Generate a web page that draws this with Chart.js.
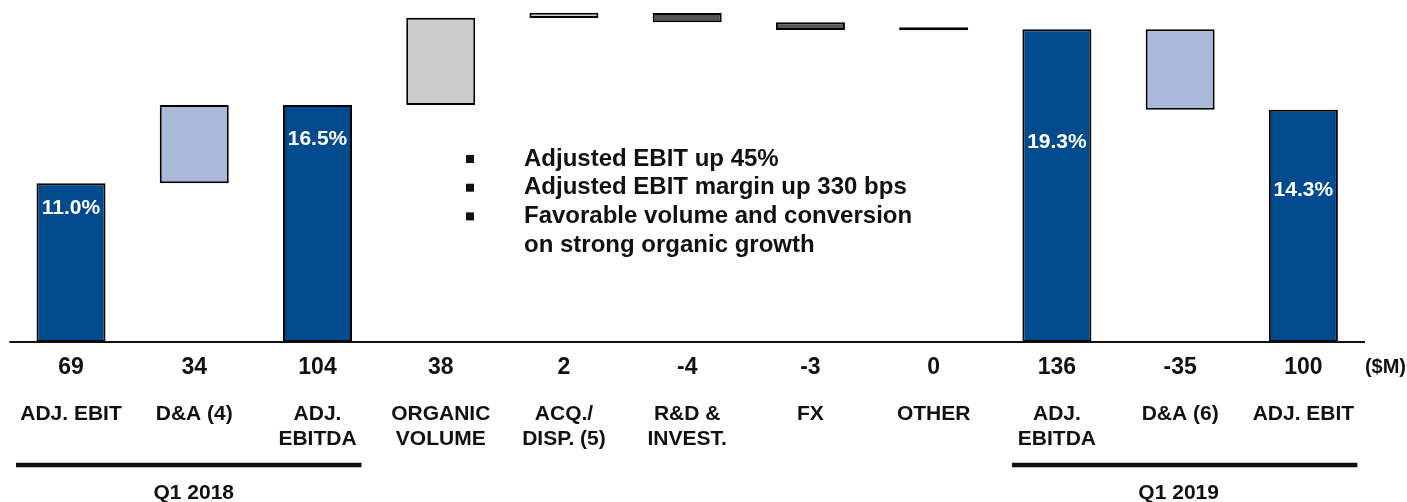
<!DOCTYPE html>
<html>
<head>
<meta charset="utf-8">
<script src="https://cdn.jsdelivr.net/npm/chart.js@4.4.1/dist/chart.umd.min.js"></script>
<style>
  html, body { margin: 0; padding: 0; background: #fff; }
  #wrap { width: 1407px; height: 502px; position: relative; }
</style>
</head>
<body>
<div id="wrap"><canvas id="chart" width="1407" height="502"></canvas></div>
<script>
const categories = [
  ['ADJ. EBIT'], ['D&A (4)'], ['ADJ.', 'EBITDA'], ['ORGANIC', 'VOLUME'],
  ['ACQ./', 'DISP. (5)'], ['R&D &', 'INVEST.'], ['FX'], ['OTHER'],
  ['ADJ.', 'EBITDA'], ['D&A (6)'], ['ADJ. EBIT']
];
const valueLabels = ['69', '34', '104', '38', '2', '-4', '-3', '0', '136', '-35', '100'];
const barStart = [0, 69, 0, 103, 140.9, 143, 139, 135.6, 0, 136, 0];
const barEnd   = [69, 103, 103, 141, 143.2, 139, 135.7, 136.9, 136, 101, 101];
const barColors = ['#004B8D', '#A9B9D9', '#004B8D', '#CCCCCC', '#CCCCCC', '#555555',
                   '#555555', '#111111', '#004B8D', '#A9B9D9', '#004B8D'];
const marginLabels = ['11.0%', '', '16.5%', '', '', '', '', '', '19.3%', '', '14.3%'];
const marginAt = [58.5, null, 88.7, null, null, null, null, null, 87.4, null, 66.3];
const groupLabels = ['Q1 2018', 'Q1 2019'];
const groupFrom = [0, 8];
const groupTo = [2, 10];
const bullets = [
  'Adjusted EBIT up 45%',
  'Adjusted EBIT margin up 330 bps',
  'Favorable volume and conversion'
];
const bulletTail = 'on strong organic growth';

const FONT = '"Liberation Sans", Arial, sans-serif';

const decorations = {
  id: 'decorations',
  afterDatasetsDraw(chart) {
    const ctx = chart.ctx;
    const x = chart.scales.x;
    const y = chart.scales.y;
    const area = chart.chartArea;
    ctx.save();

    // baseline
    ctx.strokeStyle = '#111';
    ctx.lineWidth = 2;
    ctx.beginPath();
    ctx.moveTo(area.left, y.getPixelForValue(0));
    ctx.lineTo(area.right, y.getPixelForValue(0));
    ctx.stroke();

    // margin % inside the totals
    ctx.fillStyle = '#fff';
    ctx.font = 'bold 21px ' + FONT;
    ctx.textAlign = 'center';
    ctx.textBaseline = 'middle';
    marginLabels.forEach((t, i) => {
      if (t) ctx.fillText(t, x.getPixelForValue(i), y.getPixelForValue(marginAt[i]) + 1);
    });

    // values and category names under the baseline
    ctx.fillStyle = '#111';
    categories.forEach((lines, i) => {
      const cx = x.getPixelForValue(i);
      ctx.font = 'bold 23px ' + FONT;
      ctx.fillText(valueLabels[i], cx, 368);
      ctx.font = 'bold 21px ' + FONT;
      lines.forEach((l, j) => ctx.fillText(l, cx, 414 + j * 25.5));
    });

    ctx.font = 'bold 20px ' + FONT;
    ctx.textAlign = 'right';
    ctx.fillText('($M)', 1406, 367);

    // period brackets
    ctx.textAlign = 'center';
    ctx.font = 'bold 21px ' + FONT;
    groupLabels.forEach((g, k) => {
      const l = x.getPixelForValue(groupFrom[k]) - (k === 0 ? 55 : 45);
      const r = x.getPixelForValue(groupTo[k]) + (k === 0 ? 44 : 54);
      ctx.lineWidth = 4.5;
      ctx.beginPath();
      ctx.moveTo(l, 465);
      ctx.lineTo(r, 465);
      ctx.stroke();
      ctx.fillText(g, (l + r) / 2 + (k === 0 ? 5 : -6), 493);
    });

    // bullet notes
    ctx.textAlign = 'left';
    ctx.font = 'bold 24px ' + FONT;
    bullets.forEach((b, i) => {
      const ly = 159 + i * 28.7;
      ctx.fillRect(466, ly - 4, 8, 8);
      ctx.fillText(b, 524, ly);
    });
    ctx.fillText(bulletTail, 524, 159 + 3 * 28.7);

    ctx.restore();
  }
};

new Chart(document.getElementById('chart'), {
  type: 'bar',
  data: {
    labels: categories,
    datasets: [{
      data: barStart.map((s, i) => [s, barEnd[i]]),
      backgroundColor: barColors,
      borderColor: '#000',
      borderWidth: 2,
      borderSkipped: false,
      barPercentage: 0.56,
      categoryPercentage: 1
    }]
  },
  options: {
    responsive: false,
    animation: false,
    layout: { padding: { left: 9.4, right: 42, top: 0, bottom: 160 } },
    plugins: { legend: { display: false }, tooltip: { enabled: false } },
    scales: {
      x: { display: false },
      y: { display: false, min: 0, max: 148.7 }
    }
  },
  plugins: [decorations]
});
</script>
</body>
</html>
